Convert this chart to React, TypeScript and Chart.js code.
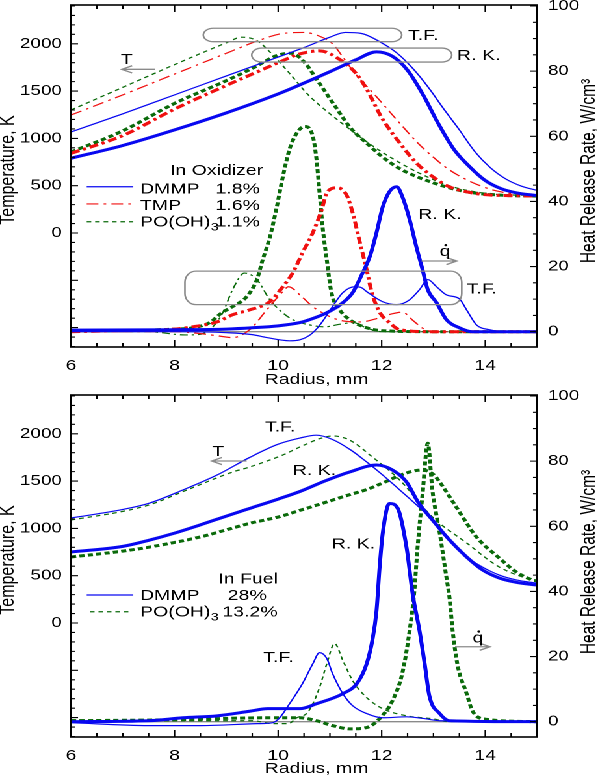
import React, { useEffect, useRef } from "react";
import { Chart, registerables } from "chart.js";
Chart.register(...registerables);

// ---------------- axis ticks ----------------
const radiusTicks = [6, 8, 10, 12, 14];
const tempTickLabels = [0, 500, 1000, 1500, 2000];
const hrrTickLabels = [0, 20, 40, 60, 80, 100];

// ---------------- In Oxidizer : temperature (K) ----------------
const oxTfDmmpR = [6, 7, 8, 9, 10, 10.5, 11, 11.3, 11.6, 12, 12.3, 12.6, 12.9, 13.2, 13.5, 13.8, 14.1, 14.4, 14.7, 15];
const oxTfDmmpT = [1068, 1260, 1460, 1660, 1860, 1960, 2070, 2120, 2110, 2010, 1900, 1740, 1540, 1310, 1090, 860, 690, 570, 495, 450];
const oxRkDmmpR = [6, 7, 8, 9, 10, 10.5, 11, 11.5, 11.9, 12.2, 12.5, 12.8, 13.1, 13.4, 13.7, 14, 14.3, 14.6, 15];
const oxRkDmmpT = [790, 925, 1090, 1270, 1470, 1585, 1705, 1830, 1915, 1870, 1720, 1460, 1150, 880, 700, 555, 470, 425, 395];
const oxTfTmpR = [6, 7, 8, 9, 9.6, 10.1, 10.5, 10.8, 11.05, 11.25, 11.45, 11.9, 12.35, 12.7, 13, 13.3, 13.65, 14, 14.3, 14.6, 15];
const oxTfTmpT = [1247, 1460, 1680, 1900, 2030, 2110, 2120, 2080, 2000, 1860, 1710, 1440, 1160, 950, 800, 670, 560, 480, 435, 410, 395];
const oxRkTmpR = [6, 7, 8, 9, 9.5, 10, 10.4, 10.8, 11.2, 11.5, 11.7, 12, 12.35, 12.67, 13, 13.3, 13.6, 14, 14.5, 15];
const oxRkTmpT = [842, 1030, 1310, 1560, 1680, 1800, 1890, 1925, 1830, 1690, 1530, 1220, 950, 740, 590, 490, 440, 405, 395, 390];
const oxTfPoR = [6, 7, 8, 8.6, 9, 9.3, 9.6, 9.9, 10.2, 10.6, 11, 11.4, 11.8, 12.2, 12.7, 13.3, 14, 15];
const oxTfPoT = [1300, 1540, 1780, 1920, 2010, 2070, 2030, 1880, 1700, 1450, 1260, 1090, 930, 790, 640, 500, 420, 395];
const oxRkPoR = [6, 7, 8, 9, 9.5, 10, 10.25, 10.5, 10.75, 11.1, 11.4, 11.75, 12, 12.35, 13, 13.6, 14.3, 15];
const oxRkPoT = [856, 1080, 1370, 1610, 1740, 1880, 1900, 1810, 1620, 1340, 1110, 930, 810, 680, 530, 440, 400, 390];

// ---------------- In Oxidizer : heat release rate (W/cm3) ----------------
const oxQTfDmmpR = [6, 8, 9, 9.5, 9.78, 10.22, 10.42, 10.6, 10.74, 10.85, 11.05, 11.25, 11.48, 11.6, 11.71, 12.02, 12.29, 12.54, 12.73, 12.89, 13.06, 13.25, 13.5, 13.64, 13.83, 14.08, 14.41, 15];
const oxQTfDmmp = [0, 0, -0.3, -0.9, -1.8, -2.8, -2.5, -1.2, 0.8, 3, 7.7, 12, 13.8, 13.6, 12.3, 9.2, 8.3, 9.8, 12.9, 16, 13.8, 11.3, 10.1, 6.7, 2.1, 0.6, 0, 0];
const oxQRkDmmpR = [6, 8, 9, 9.5, 10, 10.42, 10.61, 10.94, 11.25, 11.44, 11.63, 11.77, 11.9, 12.02, 12.15, 12.29, 12.4, 12.54, 12.67, 12.79, 12.89, 13.06, 13.25, 13.5, 13.75, 15];
const oxQRkDmmp = [0.5, 0.6, 0.8, 1.2, 1.8, 2.8, 3.7, 5.8, 8.9, 12, 18, 23, 30.4, 38.3, 43, 44.5, 41.4, 34.4, 26, 19, 12.9, 8.9, 3.7, 1.2, 0, 0];
const oxQTfTmpR = [6, 8, 8.5, 8.8, 9.12, 9.45, 9.78, 10.09, 10.2, 10.42, 10.67, 11, 11.3, 11.6, 11.9, 12.2, 12.4, 12.6, 12.8, 13, 15];
const oxQTfTmp = [0, 0, -0.6, -1.2, -1.8, 0.6, 6.7, 12.3, 13.8, 11.3, 7.7, 4.6, 3.2, 3, 4, 5.5, 6, 3.5, 1, 0, 0];
const oxQRkTmpR = [6, 7, 8, 8.35, 8.82, 9.12, 9.45, 9.84, 10.09, 10.28, 10.47, 10.67, 10.84, 10.94, 11.13, 11.32, 11.44, 11.57, 11.71, 11.81, 11.96, 12.15, 12.35, 13, 15];
const oxQRkTmp = [0, 0.3, 0.8, 1.5, 3, 5.2, 6.7, 9.2, 13.8, 18, 24.2, 30.4, 37.4, 42.6, 44.2, 42, 36.5, 28, 19, 12, 6, 2.8, 0.6, 0, 0];
const oxQTfPoR = [6, 7.5, 8.2, 8.5, 8.74, 8.93, 9.12, 9.35, 9.59, 9.84, 10.09, 10.28, 10.6, 10.9, 11.2, 11.45, 11.7, 12, 15];
const oxQTfPo = [0, 0, -1, -0.8, 1.5, 5.8, 12.9, 18, 16, 9.8, 5.8, 3.7, 2.1, 1.5, 2.3, 2.8, 1.2, 0, 0];
const oxQRkPoR = [6, 7, 7.5, 8, 8.35, 8.68, 8.91, 9.12, 9.39, 9.59, 9.7, 9.84, 9.97, 10.09, 10.22, 10.36, 10.51, 10.67, 10.74, 10.8, 10.86, 10.94, 11.03, 11.19, 11.38, 11.71, 12.02, 13, 15];
const oxQRkPo = [0.3, 0.3, 0.5, 0.8, 1.2, 2.8, 5.8, 7.7, 10.7, 16, 22, 29, 38, 47.5, 56, 61, 63, 60, 53, 42.6, 32, 22, 12, 6.7, 3.7, 1.2, 0.3, 0, 0];

// ---------------- In Fuel : temperature (K) ----------------
const fuTfDmmpR = [6, 7, 7.52, 8.16, 8.82, 9.45, 10, 10.42, 10.74, 11.05, 11.4, 11.71, 12.05, 12.35, 12.67, 12.98, 13.31, 13.64, 13.95, 14.27, 14.6, 15];
const fuTfDmmpT = [1110, 1200, 1268, 1406, 1564, 1750, 1890, 1955, 1985, 1940, 1830, 1702, 1550, 1406, 1250, 1089, 877, 698, 590, 507, 455, 420];
const fuRkDmmpR = [6, 7, 7.52, 8, 8.49, 9, 9.5, 10, 10.42, 10.9, 11.38, 11.9, 12.21, 12.48, 12.7, 12.98, 13.31, 13.64, 13.95, 14.27, 14.6, 15];
const fuRkDmmpT = [750, 810, 877, 950, 1036, 1130, 1220, 1310, 1390, 1500, 1596, 1670, 1617, 1490, 1280, 1089, 877, 698, 560, 476, 430, 400];
const fuTfPoR = [6, 7, 7.52, 8.3, 9.12, 9.45, 10.09, 10.42, 10.84, 11.05, 11.38, 11.82, 12.35, 12.98, 13.64, 14.27, 14.91, 15];
const fuTfPoT = [1089, 1180, 1250, 1420, 1596, 1649, 1776, 1860, 1955, 1977, 1934, 1755, 1510, 1120, 846, 592, 455, 445];
const fuRkPoR = [6, 7, 7.52, 8.49, 9.5, 10, 10.42, 11, 11.4, 11.71, 12.02, 12.35, 12.6, 12.79, 13, 13.12, 13.44, 13.83, 14.27, 14.6, 14.91, 15];
const fuRkPoT = [698, 760, 803, 909, 1060, 1120, 1190, 1290, 1360, 1410, 1480, 1560, 1605, 1617, 1570, 1490, 1226, 909, 687, 539, 455, 445];

// ---------------- In Fuel : heat release rate (W/cm3) ----------------
const fuQTfDmmpR = [6, 7.5, 8.5, 9.6, 9.9, 10.03, 10.22, 10.47, 10.67, 10.8, 10.94, 11.05, 11.25, 11.44, 11.71, 12.02, 12.48, 12.8, 13.12, 15];
const fuQTfDmmp = [-0.3, -1.2, -1.2, -0.6, -0.3, 1.2, 5.5, 11.7, 17.8, 21.2, 19.4, 14.8, 8.6, 4.9, 2.5, 1.2, 1.5, 1, 0.3, 0];
const fuQRkDmmpR = [6, 7.5, 8.16, 8.82, 9.45, 9.8, 10.09, 10.42, 10.74, 11.25, 11.52, 11.71, 11.82, 11.9, 11.96, 12.02, 12.15, 12.31, 12.48, 12.6, 12.73, 12.83, 12.92, 13.12, 13.31, 15];
const fuQRkDmmp = [0, 0.3, 1.2, 1.8, 3.2, 4, 4, 4, 5.5, 8.6, 11.7, 17.8, 25, 34, 47.4, 57.8, 67, 65.5, 53.5, 39, 28, 17.8, 8, 2.5, 0.3, 0];
const fuQTfPoR = [6, 8, 9.5, 9.9, 10.2, 10.36, 10.55, 10.67, 10.8, 10.94, 11.09, 11.25, 11.44, 11.71, 12.02, 12.48, 12.98, 13.31, 15];
const fuQTfPo = [0.6, 0.3, 0.3, -0.6, -0.6, 1.2, 2.5, 5.5, 10.5, 17.8, 24, 18.8, 12.6, 7.4, 4, 1.8, 0.9, 0, 0];
const fuQRkPoR = [6, 8, 9.78, 10.42, 10.74, 11.05, 11.38, 11.71, 12.02, 12.21, 12.4, 12.54, 12.63, 12.69, 12.79, 12.89, 12.98, 13.12, 13.25, 13.31, 13.37, 13.46, 13.64, 13.75, 13.95, 15];
const fuQRkPo = [0.3, 0.6, 1.2, 1.2, 0.3, -1.2, -2.2, -1.8, 2, 6.5, 15, 28, 40, 53, 70, 85.5, 71, 58, 44.3, 38, 28, 17.8, 8.6, 3.4, 0.9, 0];

// ---------------- layout / style ----------------
const W = 460; // logical canvas width, stretched horizontally on screen
const H = 388;
const SX = 598 / W;
const LEFT = 71 / SX;
const RIGHT = 537 / SX;
const TMIN = -1205, TMAX = 2410;
const QMIN = -4.7, QMAX = 100.3;
const FONT = "'Liberation Sans', Arial, Helvetica, sans-serif";
const BLUE = "#0808f0";
const RED = "#f01010";
const GREEN = "#0a6a0a";
const GRAY = "#8a8a8a";
const THICK = 3;
const THIN = 1.2;
const DASH_RK_TMP = [7, 3, 2.5, 3];
const DASH_TF_TMP = [9, 4, 2, 4];
const DASH_RK_PO = [4, 2.5];
const DASH_TF_PO = [3.5, 3];

type Axis = "T" | "Q";
const s = (r: number[], v: number[], color: string, width: number, dash: number[], axis: Axis) => ({ r, v, color, width, dash, axis });

const oxidizerPanel = {
  top: 5,
  bottom: 347,
  series: [
    s(oxTfDmmpR, oxTfDmmpT, BLUE, THIN, [], "T"),
    s(oxRkDmmpR, oxRkDmmpT, BLUE, THICK, [], "T"),
    s(oxTfTmpR, oxTfTmpT, RED, THIN, DASH_TF_TMP, "T"),
    s(oxRkTmpR, oxRkTmpT, RED, THICK, DASH_RK_TMP, "T"),
    s(oxTfPoR, oxTfPoT, GREEN, THIN, DASH_TF_PO, "T"),
    s(oxRkPoR, oxRkPoT, GREEN, THICK, DASH_RK_PO, "T"),
    s(oxQTfDmmpR, oxQTfDmmp, BLUE, THIN, [], "Q"),
    s(oxQRkDmmpR, oxQRkDmmp, BLUE, THICK, [], "Q"),
    s(oxQTfTmpR, oxQTfTmp, RED, THIN, DASH_TF_TMP, "Q"),
    s(oxQRkTmpR, oxQRkTmp, RED, THICK, DASH_RK_TMP, "Q"),
    s(oxQTfPoR, oxQTfPo, GREEN, THIN, [6, 3, 2, 3], "Q"),
    s(oxQRkPoR, oxQRkPo, GREEN, THICK, DASH_RK_PO, "Q"),
  ],
  ovals: [
    { r1: 8.555, r2: 12.387, v1: 2022, v2: 2164, axis: "T", rx: 7.7, ry: 0 },
    { r1: 9.49, r2: 13.353, v1: 1807, v2: 1955, axis: "T", rx: 7.7, ry: 0 },
    { r1: 8.2, r2: 13.546, v1: 8.3, v2: 18.6, axis: "Q", rx: 8.5, ry: 11 },
  ],
  arrows: [
    { r1: 6.98, r2: 7.62, v: 1730, axis: "T", head: "left" },
    { r1: 12.77, r2: 13.45, v: 21.7, axis: "Q", head: "right" },
  ],
  texts: [
    { text: "T.F.", r: 12.51, v: 2040, axis: "T", align: "left" },
    { text: "R. K.", r: 13.455, v: 1829, axis: "T", align: "left" },
    { text: "T", r: 7.076, v: 1786, axis: "T", align: "center" },
    { text: "R. K.", r: 12.707, v: 34.6, axis: "Q", align: "left" },
    { text: "q", r: 13.223, v: 23.2, axis: "Q", align: "center", qdot: true },
    { text: "T.F.", r: 13.642, v: 11.8, axis: "Q", align: "left" },
    { text: "In Oxidizer", r: 7.912, v: 613, axis: "T", align: "left" },
    { text: "DMMP", r: 7.333, v: 420, axis: "T", align: "left" },
    { text: "1.8%", r: 9.65, v: 420, axis: "T", align: "right" },
    { text: "TMP", r: 7.333, v: 243, axis: "T", align: "left" },
    { text: "1.6%", r: 9.65, v: 243, axis: "T", align: "right" },
    { text: "PO(OH)", sub: "3", r: 7.333, v: 67, axis: "T", align: "left" },
    { text: "1.1%", r: 9.65, v: 67, axis: "T", align: "right" },
  ],
  legendLines: [
    { r1: 6.303, r2: 7.203, v: 489, color: BLUE, dash: [] },
    { r1: 6.303, r2: 7.203, v: 307, color: RED, dash: DASH_TF_TMP },
    { r1: 6.303, r2: 7.203, v: 119, color: GREEN, dash: DASH_TF_PO },
  ],
  yTitleY: 170,
  y2TitleY: 171,
  xTitleY: 384,
};

const fuelPanel = {
  top: 7,
  bottom: 349,
  series: [
    s(fuTfDmmpR, fuTfDmmpT, BLUE, THIN, [], "T"),
    s(fuRkDmmpR, fuRkDmmpT, BLUE, THICK, [], "T"),
    s(fuTfPoR, fuTfPoT, GREEN, THIN, DASH_TF_PO, "T"),
    s(fuRkPoR, fuRkPoT, GREEN, THICK, DASH_RK_PO, "T"),
    s(fuQTfDmmpR, fuQTfDmmp, BLUE, THIN, [], "Q"),
    s(fuQRkDmmpR, fuQRkDmmp, BLUE, THICK, [], "Q"),
    s(fuQTfPoR, fuQTfPo, GREEN, THIN, DASH_TF_PO, "Q"),
    s(fuQRkPoR, fuQRkPo, GREEN, THICK, DASH_RK_PO, "Q"),
  ],
  ovals: [],
  arrows: [
    { r1: 8.717, r2: 9.393, v: 1712, axis: "T", head: "left" },
    { r1: 13.416, r2: 14.092, v: 23.0, axis: "Q", head: "right" },
  ],
  texts: [
    { text: "T.F.", r: 9.747, v: 2022, axis: "T", align: "left" },
    { text: "T", r: 8.839, v: 1765, axis: "T", align: "center" },
    { text: "R. K.", r: 10.282, v: 1564, axis: "T", align: "left" },
    { text: "R. K.", r: 11.035, v: 53.2, axis: "Q", align: "left" },
    { text: "T.F.", r: 9.714, v: 18.4, axis: "Q", align: "left" },
    { text: "q", r: 13.86, v: 24.3, axis: "Q", align: "center", qdot: true },
    { text: "In Fuel", r: 8.845, v: 420, axis: "T", align: "left" },
    { text: "DMMP", r: 7.333, v: 243, axis: "T", align: "left" },
    { text: "28%", r: 9.78, v: 243, axis: "T", align: "right" },
    { text: "PO(OH)", sub: "3", r: 7.333, v: 67, axis: "T", align: "left" },
    { text: "13.2%", r: 9.99, v: 67, axis: "T", align: "right" },
  ],
  legendLines: [
    { r1: 6.303, r2: 7.203, v: 296, color: BLUE, dash: [] },
    { r1: 6.367, r2: 7.172, v: 119, color: GREEN, dash: DASH_TF_PO },
  ],
  yTitleY: 172,
  y2TitleY: 174,
  xTitleY: 385,
};

function roundBox(ctx: any, x1: number, y1: number, x2: number, y2: number, rx: number, ry: number) {
  ctx.beginPath();
  ctx.moveTo(x1 + rx, y1);
  ctx.lineTo(x2 - rx, y1);
  ctx.ellipse(x2 - rx, y1 + ry, rx, ry, 0, -Math.PI / 2, 0);
  ctx.lineTo(x2, y2 - ry);
  ctx.ellipse(x2 - rx, y2 - ry, rx, ry, 0, 0, Math.PI / 2);
  ctx.lineTo(x1 + rx, y2);
  ctx.ellipse(x1 + rx, y2 - ry, rx, ry, 0, Math.PI / 2, Math.PI);
  ctx.lineTo(x1, y1 + ry);
  ctx.ellipse(x1 + rx, y1 + ry, rx, ry, 0, Math.PI, Math.PI * 1.5);
  ctx.closePath();
  ctx.stroke();
}

function decorPlugin(panel: any) {
  return {
    id: "decor",
    beforeDatasetsDraw(chart: any) {
      const ctx = chart.ctx;
      const { left, right } = chart.chartArea;
      const y0 = chart.scales.yQ.getPixelForValue(0);
      ctx.save();
      ctx.strokeStyle = GRAY;
      ctx.lineWidth = 1.4;
      ctx.beginPath();
      ctx.moveTo(left, y0);
      ctx.lineTo(right, y0);
      ctx.stroke();
      ctx.restore();
    },
    afterDatasetsDraw(chart: any) {
      const ctx = chart.ctx;
      const { left, right, top, bottom } = chart.chartArea;
      const sx = chart.scales.x, sT = chart.scales.yT, sQ = chart.scales.yQ;
      const py = (axis: string, v: number) => (axis === "T" ? sT : sQ).getPixelForValue(v);
      ctx.save();
      // frame
      ctx.strokeStyle = "#000";
      ctx.lineWidth = 1.6;
      ctx.setLineDash([]);
      ctx.strokeRect(left, top, right - left, bottom - top);
      // tick marks (inside)
      ctx.lineWidth = 1.1;
      ctx.beginPath();
      for (let v = 6; v <= 15.001; v += 0.5) {
        const x = sx.getPixelForValue(v);
        const len = radiusTicks.includes(v) ? 7 : 4;
        ctx.moveTo(x, bottom); ctx.lineTo(x, bottom - len);
        ctx.moveTo(x, top); ctx.lineTo(x, top + len);
      }
      for (let v = -1200; v <= 2400; v += 100) {
        const y = sT.getPixelForValue(v);
        const len = v % 500 === 0 ? 5.4 : 3.1;
        ctx.moveTo(left, y); ctx.lineTo(left + len, y);
      }
      for (let v = 0; v <= 100; v += 5) {
        const y = sQ.getPixelForValue(v);
        const len = v % 20 === 0 ? 5.4 : 3.1;
        ctx.moveTo(right, y); ctx.lineTo(right - len, y);
      }
      ctx.stroke();

      // ovals / boxes
      ctx.strokeStyle = GRAY;
      ctx.lineWidth = 1.3;
      for (const o of panel.ovals) {
        const x1 = sx.getPixelForValue(o.r1), x2 = sx.getPixelForValue(o.r2);
        const ya = py(o.axis, o.v1), yb = py(o.axis, o.v2);
        const y1 = Math.min(ya, yb), y2 = Math.max(ya, yb);
        const ry = o.ry || (y2 - y1) / 2;
        roundBox(ctx, x1, y1, x2, y2, o.rx, ry);
      }
      // arrows
      for (const a of panel.arrows) {
        const x1 = sx.getPixelForValue(a.r1), x2 = sx.getPixelForValue(a.r2);
        const y = py(a.axis, a.v);
        ctx.beginPath();
        ctx.moveTo(x1, y); ctx.lineTo(x2, y);
        const tip = a.head === "left" ? x1 : x2;
        const d = a.head === "left" ? 1 : -1;
        ctx.moveTo(tip + d * 8, y - 3.6); ctx.lineTo(tip, y); ctx.lineTo(tip + d * 8, y + 3.6);
        ctx.stroke();
      }
      // legend samples
      for (const l of panel.legendLines) {
        ctx.strokeStyle = l.color;
        ctx.lineWidth = THIN;
        ctx.setLineDash(l.dash);
        ctx.beginPath();
        const y = sT.getPixelForValue(l.v);
        ctx.moveTo(sx.getPixelForValue(l.r1), y);
        ctx.lineTo(sx.getPixelForValue(l.r2), y);
        ctx.stroke();
      }
      ctx.setLineDash([]);
      // texts
      ctx.fillStyle = "#000";
      ctx.textBaseline = "alphabetic";
      for (const t of panel.texts) {
        const x = sx.getPixelForValue(t.r);
        const y = py(t.axis, t.v);
        ctx.font = `15px ${FONT}`;
        ctx.textAlign = t.align;
        ctx.fillText(t.text, x, y);
        if (t.sub) {
          const w = ctx.measureText(t.text).width;
          ctx.font = `11px ${FONT}`;
          ctx.textAlign = "left";
          ctx.fillText(t.sub, x + w + 0.3, y + 4);
        }
        if (t.qdot) {
          ctx.beginPath();
          ctx.arc(x + 0.6, y - 11, 1.15, 0, Math.PI * 2);
          ctx.fill();
        }
      }
      // axis titles
      ctx.font = `16px ${FONT}`;
      ctx.textAlign = "center";
      ctx.save();
      ctx.translate(10.5, panel.yTitleY);
      ctx.rotate(-Math.PI / 2);
      ctx.fillText("Temperature, K", 0, 0);
      ctx.restore();
      ctx.font = `15.5px ${FONT}`;
      ctx.save();
      ctx.translate(457.5, panel.y2TitleY);
      ctx.rotate(-Math.PI / 2);
      ctx.fillText("Heat Release Rate, W/cm\u00B3", 0, 0);
      ctx.restore();
      ctx.font = `15px ${FONT}`;
      ctx.fillText("Radius, mm", 243.5, panel.xTitleY);
      ctx.restore();
    },
  };
}

function makeChart(canvas: HTMLCanvasElement, panel: any) {
  const datasets = panel.series.map((d: any) => ({
    data: d.r.map((x: number, i: number) => ({ x, y: d.v[i] })),
    borderColor: d.color,
    borderWidth: d.width,
    borderDash: d.dash,
    borderCapStyle: "butt",
    pointRadius: 0,
    fill: false,
    cubicInterpolationMode: "monotone",
    yAxisID: d.axis === "T" ? "yT" : "yQ",
  }));
  const tickFont = { family: FONT, size: 14.5 };
  const plain = (v: any) => String(v);
  return new Chart(canvas, {
    type: "line",
    data: { datasets },
    options: {
      responsive: false,
      animation: false,
      devicePixelRatio: 2,
      events: [],
      layout: { padding: { top: panel.top, left: 0, right: 0, bottom: 0 } },
      plugins: { legend: { display: false }, tooltip: { enabled: false }, title: { display: false } },
      scales: {
        x: {
          type: "linear",
          position: "bottom",
          min: 6,
          max: 15,
          grid: { display: false, drawTicks: false },
          border: { display: false },
          ticks: { color: "#000", font: { family: FONT, size: 15 }, padding: 10, maxRotation: 0, autoSkip: false, callback: plain },
          afterBuildTicks: (sc: any) => { sc.ticks = radiusTicks.map((v) => ({ value: v })); },
          afterFit: (sc: any) => { sc.height = H - panel.bottom; sc.paddingLeft = 0; sc.paddingRight = 0; },
        },
        yT: {
          type: "linear",
          position: "left",
          min: TMIN,
          max: TMAX,
          grid: { display: false, drawTicks: false },
          border: { display: false },
          ticks: { color: "#000", font: tickFont, padding: 7, callback: plain },
          afterBuildTicks: (sc: any) => { sc.ticks = tempTickLabels.map((v) => ({ value: v })); },
          afterFit: (sc: any) => { sc.width = LEFT; sc.paddingTop = 0; sc.paddingBottom = 0; },
        },
        yQ: {
          type: "linear",
          position: "right",
          min: QMIN,
          max: QMAX,
          grid: { display: false, drawTicks: false },
          border: { display: false },
          ticks: { color: "#000", font: tickFont, padding: 8.4, callback: plain },
          afterBuildTicks: (sc: any) => { sc.ticks = hrrTickLabels.map((v) => ({ value: v })); },
          afterFit: (sc: any) => { sc.width = W - RIGHT; sc.paddingTop = 0; sc.paddingBottom = 0; },
        },
      },
    } as any,
    plugins: [decorPlugin(panel)],
  } as any);
}

export default function App() {
  const topRef = useRef<HTMLCanvasElement>(null);
  const botRef = useRef<HTMLCanvasElement>(null);
  useEffect(() => {
    const c1 = makeChart(topRef.current as HTMLCanvasElement, oxidizerPanel);
    const c2 = makeChart(botRef.current as HTMLCanvasElement, fuelPanel);
    return () => {
      c1.destroy();
      c2.destroy();
    };
  }, []);
  return (
    <div
      style={{
        position: "absolute",
        left: 0,
        top: 0,
        width: W,
        height: 2 * H,
        transform: `scaleX(${SX})`,
        transformOrigin: "0 0",
        background: "#fff",
      }}
    >
      <canvas ref={topRef} width={W} height={H} style={{ display: "block", width: W, height: H }} />
      <canvas ref={botRef} width={W} height={H} style={{ display: "block", width: W, height: H }} />
    </div>
  );
}
